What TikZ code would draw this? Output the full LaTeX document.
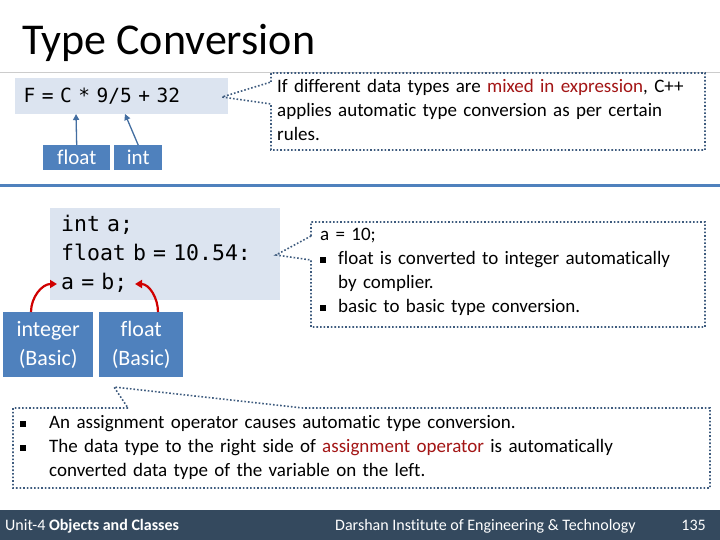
\documentclass[tikz,border=0pt]{standalone}
\usepackage{fontspec}
\setmainfont{Carlito}[Ligatures=CommonOff]
\setmonofont{DejaVu Sans Mono}[WordSpace={1,0,0}]
\usetikzlibrary{arrows.meta}
\definecolor{codebg}{HTML}{DCE4F0}
\definecolor{boxblue}{HTML}{4F81BD}
\definecolor{callc}{HTML}{3E5B7E}
\definecolor{redt}{HTML}{A31515}
\definecolor{arrred}{HTML}{D00000}
\definecolor{foot}{HTML}{34495E}
\newcommand{\bsq}{\makebox[18pt][l]{\raisebox{1.5pt}{\rule{6pt}{6pt}}}}
\newcommand{\bsqq}{\makebox[29pt][l]{\raisebox{1.5pt}{\rule{6pt}{6pt}}}}
\begin{document}
\begin{tikzpicture}[x=1pt,y=-1pt,
  code/.style={fill=codebg,inner sep=0pt,anchor=north west,font=\ttfamily},
  tag/.style={fill=boxblue,text=white,inner sep=0pt,font=\fontsize{21}{23}\selectfont,align=center},
  txt/.style={inner sep=0pt,anchor=north west,align=left,font=\fontsize{19}{24}\selectfont},
  callout/.style={draw=callc,line width=1.6pt,dotted},
  barrow/.style={draw=boxblue!85!black,line width=1.3pt,-{Triangle[length=6pt,width=6pt]}},
  rarrow/.style={draw=arrred,line width=2.2pt,-{Triangle[length=7pt,width=8pt]}}]
\useasboundingbox (0,0) rectangle (720,540);
\fill[white] (0,0) rectangle (720,540);
\node[anchor=base west,inner sep=0pt,font=\fontsize{44}{46}\selectfont] (title) at (22,55) {Type Conversion};
\draw[gray!40,line width=0.8pt] (0,72) -- (720,72);
% code 1
\node[code,minimum width=213pt,minimum height=36pt,font=\ttfamily\fontsize{19.5}{20}\selectfont,text width=210pt,align=left] (c1) at (15,78) {\hspace*{7pt}F = C * 9/5 + 32};
\node[tag,minimum width=67pt,minimum height=25pt,anchor=north west] (tf) at (43,145) {float};
\node[tag,minimum width=48pt,minimum height=25pt,anchor=north west] (ti) at (114,145) {int};
\coordinate (cC) at (76,114);
\coordinate (c9) at (125,114);
\draw[barrow] (tf.north) -- (cC);
\draw[barrow] (ti.north) -- (c9);
% callout 1
\node[txt,text width=425pt] (t1) at (277,79) {If different data types are \textcolor{redt}{mixed in expression}, C++\\applies automatic type conversion as per certain\\rules.};
\coordinate (a1) at (222,97);
\draw[callout] (271,82) -- (271,73) -- (705,73) -- (705,150) -- (271,150) -- (271,104) -- (a1) -- cycle;
% blue separator
\draw[boxblue,line width=3pt] (0,186) -- (720,186);
% code 2
\node[code,minimum width=230pt,minimum height=92pt,font=\ttfamily\fontsize{21.5}{29}\selectfont,text width=226pt,align=left] (c2) at (50,208) {\hspace*{9pt}int a;\\\hspace*{9pt}float b = 10.54:\\\hspace*{9pt}a = b;};
\node[tag,minimum width=90pt,minimum height=65pt,anchor=north west,font=\fontsize{22}{29}\selectfont] (ib) at (3,312) {integer\\(Basic)};
\node[tag,minimum width=84pt,minimum height=65pt,anchor=north west,font=\fontsize{22}{29}\selectfont] (fb) at (99,312) {float\\(Basic)};
\coordinate (va) at (57,284);
\coordinate (vb) at (135,284);
\draw[rarrow] (31,312) to[out=90,in=180] (va);
\draw[rarrow] (158,312) to[out=90,in=0] (vb);
% callout 2
\node[txt,text width=385pt] (t2) at (320,228) {a = 10;\\
\bsq float is converted to integer automatically\\
\hspace*{18pt}by complier.\\
\bsq basic to basic type conversion.};
\coordinate (a2) at (276,255);
\draw[callout] (311,236) -- (311,222) -- (705,222) -- (705,327) -- (311,327) -- (311,260) -- (a2) -- cycle;
% callout 3
\node[txt,text width=690pt] (t3) at (20,415) {\bsqq An assignment operator causes automatic type conversion.\\
\bsqq The data type to the right side of \textcolor{redt}{assignment operator} is automatically\\
\hspace*{29pt}converted data type of the variable on the left.};
\coordinate (a3) at (114,387);
\draw[callout] (128,408) -- (13,408) -- (13,488) -- (710,488) -- (710,408) -- (303,408) -- (a3) -- cycle;
% footer
\fill[foot] (0,510) rectangle (720,540);
\node[anchor=base west,text=white,inner sep=0pt,font=\fontsize{16}{18}\selectfont] (f1) at (5,530) {Unit-4 \textbf{Objects and Classes}};
\node[anchor=base west,text=white,inner sep=0pt,font=\fontsize{16}{18}\selectfont] (f2) at (335,530) {Darshan Institute of Engineering \& Technology};
\node[anchor=base east,text=white,inner sep=0pt,font=\fontsize{16}{18}\selectfont] (f3) at (706,530) {135};
\end{tikzpicture}
\end{document}
